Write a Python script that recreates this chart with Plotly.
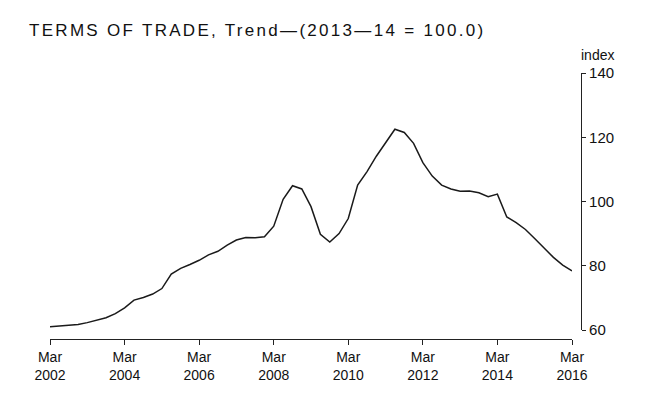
import plotly.graph_objects as go
import pandas as pd

# Quarterly trend, Mar 2002 .. Mar 2016
quarters = pd.date_range("2002-03-01", "2016-03-01", freq="3MS").strftime("%Y-%m-%d").tolist()
terms_of_trade = [
    61.0, 61.2, 61.3, 61.7, 62.3, 63.0, 63.8, 65.1,
    66.9, 69.3, 70.1, 71.2, 72.9, 77.4, 79.2, 80.4,
    81.7, 83.4, 84.5, 86.4, 88.0, 88.8, 88.7, 89.0,
    92.3, 100.7, 104.9, 103.9, 98.4, 89.8, 87.4, 90.0,
    94.7, 105.1, 109.3, 114.1, 118.3, 122.5, 121.5, 118.1,
    112.1, 107.9, 105.1, 103.9, 103.2, 103.3, 102.7, 101.5,
    102.3, 95.2, 93.4, 91.3, 88.5, 85.4, 82.6, 80.2,
    78.4,
]
tick_dates = ["2002-03-01", "2004-03-01", "2006-03-01", "2008-03-01",
              "2010-03-01", "2012-03-01", "2014-03-01", "2016-03-01"]
tick_text = ["Mar<br>2002", "Mar<br>2004", "Mar<br>2006", "Mar<br>2008",
             "Mar<br>2010", "Mar<br>2012", "Mar<br>2014", "Mar<br>2016"]
y_ticks = [60, 80, 100, 120, 140]
title_text = "TERMS OF TRADE, Trend\u2014(2013\u201414 = 100.0)"

W, H = 650, 404
L, R, T, B = 50, 69, 73, 65
plot_w = W - L - R
plot_h = H - T - B
label_font = dict(family="Liberation Sans Narrow, Liberation Sans, Arial", size=14, color="#111")

fig = go.Figure()
fig.add_trace(go.Scatter(
    x=quarters, y=terms_of_trade, mode="lines",
    line=dict(color="#1a1a1a", width=1.5), showlegend=False,
))

fig.update_layout(
    width=W, height=H,
    margin=dict(l=L, r=R, t=T, b=B),
    paper_bgcolor="white", plot_bgcolor="white",
    xaxis=dict(
        type="date",
        range=["2002-03-01", "2016-03-01"],
        domain=[0, (572 - L) / plot_w],
        anchor="free", position=0,
        tickvals=tick_dates, ticktext=tick_text,
        ticks="outside", ticklen=5, tickcolor="#222", tickwidth=1.2,
        showline=True, linecolor="#222", linewidth=1.2,
        showgrid=False, zeroline=False,
        tickfont=label_font,
    ),
    yaxis=dict(
        range=[60, 140],
        domain=[(339 - 330) / plot_h, 1],
        side="right", anchor="free", position=1,
        tickvals=y_ticks,
        ticks="outside", ticklen=4, tickcolor="#222", tickwidth=1.2,
        showline=True, linecolor="#222", linewidth=1.2,
        showgrid=False, zeroline=False,
        tickfont=dict(family="Liberation Sans Narrow, Liberation Sans, Arial", size=15, color="#111"),
    ),
    annotations=[
        dict(text='<span style="letter-spacing:2.3px">' + title_text + '</span>',
             xref="paper", yref="paper", x=(27 - L) / plot_w, y=1 + (73 - 31) / plot_h,
             xanchor="left", yanchor="middle", showarrow=False,
             font=dict(family="Liberation Sans, Arial", size=17, color="#111")),
        dict(text="index", xref="paper", yref="paper",
             x=1 + (597 - 581) / plot_w, y=1 + (73 - 55) / plot_h,
             xanchor="center", yanchor="middle", showarrow=False,
             font=dict(family="Liberation Sans Narrow, Liberation Sans, Arial", size=14, color="#111")),
    ],
)

fig.write_html("out.html")
